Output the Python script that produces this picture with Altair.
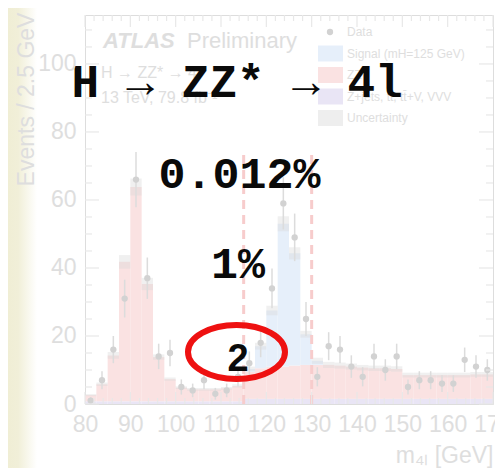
import altair as alt
import pandas as pd

# ---------------- data ----------------
bin_lo = [80.0 + 2.5 * i for i in range(36)]          # 2.5 GeV bins, 80-170 GeV
zz = [1.8, 5.0, 13.5, 41.0, 63.0, 34.5, 13.0, 6.5, 4.0, 3.5, 3.5, 3.5,
      3.8, 4.5, 8.0, 9.0, 9.5, 9.5, 9.8, 10.0, 10.0, 10.0, 9.8, 9.5,
      9.2, 9.0, 9.0, 8.8, 7.0, 7.0, 7.0, 7.0, 7.0, 7.0, 7.2, 7.2]
zjets = [0.8, 0.8, 0.8, 0.8, 0.8, 0.8, 0.8, 0.8, 0.8, 0.8, 0.8, 0.8,
         0.8, 0.8, 1.5, 1.5, 1.5, 1.5, 1.5, 1.5, 1.5, 1.5, 1.5, 1.5,
         1.5, 1.5, 1.5, 1.5, 1.5, 1.5, 1.5, 1.5, 1.5, 1.5, 1.5, 1.5]
signal = [0, 0, 0, 0, 0, 0, 0, 0, 0, 0, 0, 0,
          0, 0, 0.8, 6.5, 16.5, 42.0, 33.0, 9.0, 1.2, 0, 0, 0,
          0, 0, 0, 0, 0, 0, 0, 0, 0, 0, 0, 0]
unc = [0.3, 0.5, 1.0, 2.0, 2.5, 1.8, 0.8, 0.5, 0.4, 0.4, 0.4, 0.4,
       0.4, 0.5, 0.7, 1.0, 1.4, 2.2, 1.8, 1.0, 0.9, 0.9, 0.9, 0.9,
       0.8, 0.8, 0.8, 0.8, 0.7, 0.7, 0.7, 0.7, 0.7, 0.7, 0.7, 0.7]
data_n = [1, 7, 16, 31, 66, 37, 14, 15, 5, 4, 7, 3,
          4, 8, 12, 18, 34, 59, 49, 25, 8, 17, 16, 11,
          8, 14, 10, 14, 5, 7, 7, 6, 6, 13, 11, 10]
window_lines = [115, 130]
x_labels = [80, 90, 100, 110, 120, 130, 140, 150, 160, 170]
y_labels = [0, 20, 40, 60, 80, 100]
x_major = [80, 90, 100, 110, 120, 130, 140, 150, 160, 170]
x_minor = [m for m in range(82, 170, 2) if m % 10 != 0]
y_major = [0, 20, 40, 60, 80, 100]
y_minor = [v for v in range(5, 115, 5) if v % 20 != 0]
legend_labels = ["Data", "Signal (mH=125 GeV)", "ZZ*", "Z+jets, tt\u0304, tt\u0304+V, VVV", "Uncertainty"]

components = ["Z+jets", "ZZ*", "Signal"]
RED, BLUE, PURPLE = "#fae2e2", "#e6effa", "#e9e5f5"
comp_colors = [PURPLE, RED, BLUE]
FAINT = "#dedede"
FRAME = "#e8e8e8"
DOT = "#d2d2d2"
SANS = "Liberation Sans"
MONO = "Courier New, Liberation Mono, monospace"

W, H = 408, 389

# ---------------- tables ----------------
rows = []
for i, lo in enumerate(bin_lo):
    base = 0.0
    for comp, vals in zip(components, [zjets, zz, signal]):
        v = vals[i]
        if v > 0:
            rows.append({"lo": lo, "hi": lo + 2.5, "comp": comp, "y0": base, "y1": base + v})
            base += v
bars_df = pd.DataFrame(rows)

tot = [zjets[i] + zz[i] + signal[i] for i in range(36)]
unc_df = pd.DataFrame({"lo": bin_lo, "hi": [b + 2.5 for b in bin_lo],
                       "u0": [t - u for t, u in zip(tot, unc)],
                       "u1": [t + u for t, u in zip(tot, unc)]})
data_df = pd.DataFrame({"c": [b + 1.25 for b in bin_lo], "n": data_n})
win_df = pd.DataFrame({"m": window_lines, "lo": [0, 0], "hi": [74, 74]})
one = pd.DataFrame({"k": [0]})

xscale = alt.Scale(domain=[80, 170], nice=False, zero=False)
yscale = alt.Scale(domain=[0, 114.4], nice=False, zero=True)

xaxis = alt.Axis(values=x_labels, format="d", labelFontSize=23, labelColor=FAINT, labelFont=SANS,
                 ticks=False, tickSize=0, domain=False, grid=False, labelPadding=9,
                 labelFlush=False, labelOverlap=False, labelBound=False, zindex=1,
                 title="m\u2084\u2097 [GeV]", titleFont=SANS, titleFontSize=23, titleFontWeight="normal",
                 titleColor=FAINT, titleAlign="right", titleX=W, titleY=58, titleBaseline="alphabetic")
yaxis = alt.Axis(values=y_labels, format="d", labelFontSize=23, labelColor=FAINT, labelFont=SANS,
                 ticks=False, tickSize=0, domain=False, grid=False, labelPadding=9,
                 labelFlush=False, labelOverlap=False, zindex=1,
                 title="Events / 2.5 GeV", titleFont=SANS, titleFontSize=23, titleFontWeight="normal",
                 titleColor=FAINT, titleAngle=270, titleX=-52, titleY=84, titleAlign="center",
                 titleBaseline="alphabetic")


def X(field):
    return alt.X(field, scale=xscale, axis=xaxis)


def Y(field):
    return alt.Y(field, scale=yscale, axis=yaxis)


# left yellow strip of the slide
strip = alt.Chart(one).mark_rect(
    color=alt.Gradient(gradient="linear",
                       stops=[alt.GradientStop(color="#f0eed5", offset=0),
                              alt.GradientStop(color="#f1efd8", offset=0.35),
                              alt.GradientStop(color="#ffffff", offset=1)],
                       x1=0, x2=1, y1=0, y2=0)
).encode(x=alt.value(-77), x2=alt.value(-48), y=alt.value(-7), y2=alt.value(460))

bars = alt.Chart(bars_df).mark_rect().encode(
    x=X("lo:Q"), x2="hi:Q", y=Y("y0:Q"), y2="y1:Q",
    color=alt.Color("comp:N", scale=alt.Scale(domain=components, range=comp_colors), legend=None),
)

unc_band = alt.Chart(unc_df).mark_rect(color="#dadada", opacity=0.4).encode(
    x=X("lo:Q"), x2="hi:Q", y=Y("u0:Q"), y2="u1:Q")

win = alt.Chart(win_df).mark_rule(color="#f7cccc", strokeWidth=3, strokeDash=[9, 6]).encode(
    x=X("m:Q"), y=Y("lo:Q"), y2="hi:Q")

err = alt.Chart(data_df).transform_calculate(
    elo="datum.n - sqrt(datum.n)", ehi="datum.n + sqrt(datum.n)"
).mark_rule(color="#dcdcdc", strokeWidth=1.5).encode(
    x=X("c:Q"), y=Y("elo:Q"), y2="ehi:Q")

pts = alt.Chart(data_df).mark_circle(color=DOT, opacity=1, size=40).encode(
    x=X("c:Q"), y=Y("n:Q"))


# inward ticks on all four sides
def xticks(vals, length):
    d = pd.DataFrame({"v": vals})
    b = alt.Chart(d).mark_rule(color=FRAME, strokeWidth=1.2)
    return [b.encode(x=X("v:Q"), y=alt.value(H), y2=alt.value(H - length)),
            b.encode(x=X("v:Q"), y=alt.value(0), y2=alt.value(length))]


def yticks(vals, length):
    d = pd.DataFrame({"v": vals})
    b = alt.Chart(d).mark_rule(color=FRAME, strokeWidth=1.2)
    return [b.encode(y=Y("v:Q"), x=alt.value(0), x2=alt.value(length)),
            b.encode(y=Y("v:Q"), x=alt.value(W), x2=alt.value(W - length))]


ticks = xticks(x_major, 12) + xticks(x_minor, 6) + yticks(y_major, 14) + yticks(y_minor, 7)


def txt(s, x, y, size, color, font=SANS, weight="normal", style="normal", align="left"):
    return alt.Chart(one).mark_text(text=s, font=font, fontSize=size, fontWeight=weight,
                                    fontStyle=style, color=color, align=align,
                                    baseline="alphabetic").encode(x=alt.value(x), y=alt.value(y))


atlas = [
    txt("ATLAS", 18, 33, 22, FAINT, weight="bold", style="italic"),
    txt("Preliminary", 102, 33, 22, FAINT),
    txt("H \u2192 ZZ* \u2192 4l", 16, 63, 16, FAINT),
    txt("13 TeV, 79.8 fb\u207b\u00b9", 16, 88, 16, FAINT),
]

leg_df = pd.DataFrame({"label": legend_labels, "row": list(range(len(legend_labels))),
                       "col": [DOT, BLUE, RED, PURPLE, "#eeeeee"]})
leg_base = alt.Chart(leg_df).transform_calculate(
    py="17 + datum.row * 21.5", top="17 + datum.row * 21.5 - 8", bot="17 + datum.row * 21.5 + 8")
leg_boxes = leg_base.transform_filter("datum.row > 0").mark_rect().encode(
    x=alt.value(233), x2=alt.value(258),
    y=alt.Y("top:Q", scale=None), y2="bot:Q",
    color=alt.Color("col:N", scale=None))
leg_dot = leg_base.transform_filter("datum.row == 0").mark_circle(size=40, opacity=1, color=DOT).encode(
    x=alt.value(245), y=alt.Y("py:Q", scale=None))
leg_text = leg_base.mark_text(align="left", baseline="middle", font=SANS, fontSize=12, color=FAINT).encode(
    x=alt.value(262), y=alt.Y("py:Q", scale=None), text="label:N")

# overlaid slide text
big = [
    txt("H \u2192 ZZ* \u2192 4l", 152, 82, 46, "#0a0a0a", font=MONO, weight="bold", align="center"),
    txt("0.012%", 154.5, 173, 45, "#0a0a0a", font=MONO, weight="bold", align="center"),
    txt("1%", 153, 263, 45, "#0a0a0a", font=MONO, weight="bold", align="center"),
    txt("2", 153, 356, 38, "#0a0a0a", font=SANS, weight="bold", align="center"),
]

ellipse_path = ("M-1,0C-1,-0.3076,-0.5523,-0.557,0,-0.557C0.5523,-0.557,1,-0.3076,1,0"
                "C1,0.3076,0.5523,0.557,0,0.557C-0.5523,0.557,-1,0.3076,-1,0Z")
ellipse = alt.Chart(one).mark_point(shape=ellipse_path, filled=False, stroke="#ee1111",
                                    strokeWidth=6, size=9409, opacity=1).encode(
    x=alt.value(151.5), y=alt.value(337))

chart = alt.layer(
    strip, bars, unc_band, win, err, pts, *ticks, *atlas, leg_boxes, leg_dot, leg_text, *big, ellipse
).properties(
    width=W, height=H,
    autosize=alt.AutoSizeParams(type="none"),
    padding={"left": 77, "top": 7, "right": 2, "bottom": 64},
).configure_view(stroke=FRAME, strokeWidth=1.5).configure(background="#ffffff")

chart.save("out.html", embed_options={"renderer": "svg", "actions": False})
